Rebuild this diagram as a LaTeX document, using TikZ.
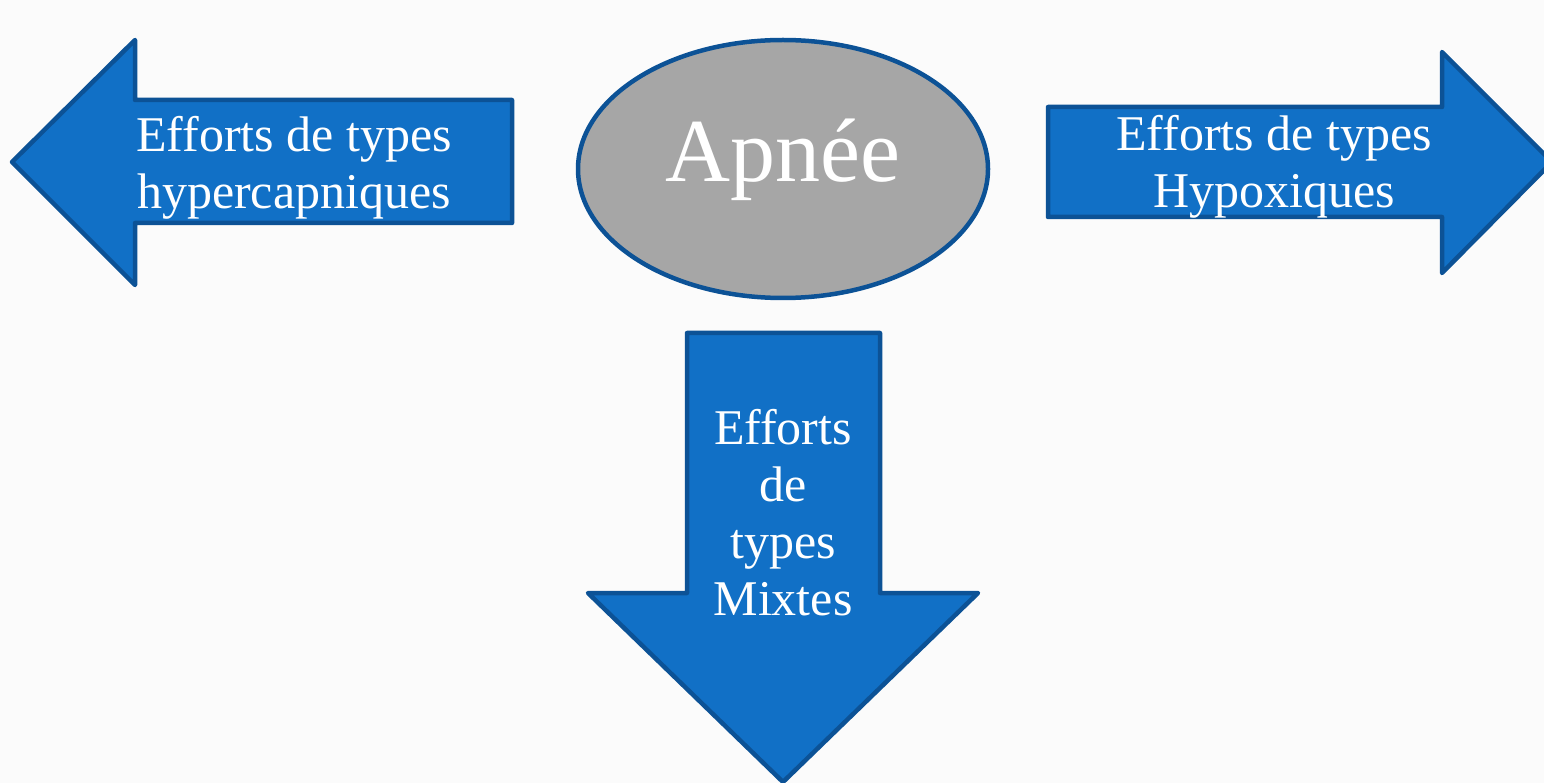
\documentclass[tikz,border=0pt]{standalone}
\usepackage{fontspec}
\setmainfont{Liberation Serif}
\definecolor{arrowblue}{HTML}{1170C6}
\definecolor{edgeblue}{HTML}{0C5296}
\definecolor{apneegray}{HTML}{A6A6A6}
\tikzset{
  arrowshape/.style={fill=arrowblue, draw=edgeblue, line width=4.5pt, line join=round},
  arrowtext/.style={text=white, align=center, font=\fontsize{50}{57}\selectfont},
}
\begin{document}
\begin{tikzpicture}[x=1pt, y=-1pt]
  % page
  \fill[white!97!gray] (0,0) rectangle (1544,783);
  \useasboundingbox (0,0) rectangle (1544,783);

  % Central ellipse
  \draw[fill=apneegray, draw=edgeblue, line width=4.5pt] (783,169) ellipse (205 and 129);
  \node[text=white, font=\fontsize{90}{90}\selectfont] (apnee) at (783,160) {Apnée};

  % Left arrow (hypercapniques)
  \draw[arrowshape] (12,162) -- (135,40) -- (135,100) -- (512,100)
    -- (512,223) -- (135,223) -- (135,285) -- cycle;
  \node[arrowtext] (hyper) at (294,168) {Efforts de types\\hypercapniques};

  % Right arrow (hypoxiques)
  \draw[arrowshape] (1048,107) -- (1442,107) -- (1442,52) -- (1552,162)
    -- (1442,273) -- (1442,217) -- (1048,217) -- cycle;
  \node[arrowtext] (hypox) at (1274,167) {Efforts de types\\Hypoxiques};

  % Down arrow (mixtes)
  \draw[arrowshape] (687,333) -- (880,333) -- (880,593) -- (978,593)
    -- (783,782) -- (588,593) -- (687,593) -- cycle;
  \node[arrowtext] (mixtes) at (783,513) {Efforts\\de\\types\\Mixtes};
\end{tikzpicture}
\end{document}
